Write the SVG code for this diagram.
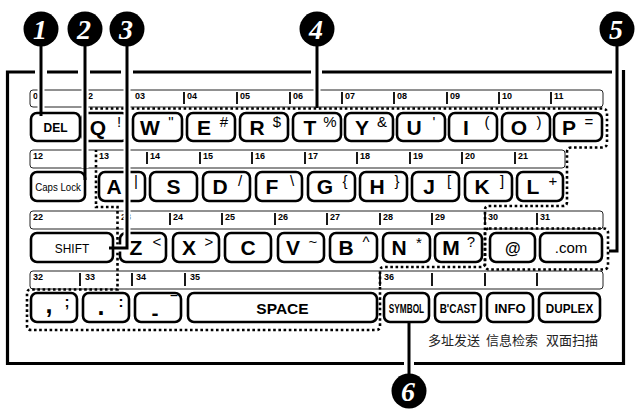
<svg xmlns="http://www.w3.org/2000/svg" width="635" height="409" viewBox="0 0 635 409">
<style>
.frame{fill:none;stroke:#000;stroke-width:3.2}
.strip{fill:#fff;stroke:#222;stroke-width:1}
.tick{stroke:#000;stroke-width:1.8}
.num{font-family:"Liberation Sans",Arial,sans-serif;font-weight:bold;font-size:9px;fill:#000}
.key{fill:#fff;stroke:#000;stroke-width:2.6}
.ltr{font-family:"Liberation Sans",Arial,sans-serif;font-weight:bold;font-size:21px;text-anchor:middle;fill:#000}
.sec{font-family:"Liberation Sans","DejaVu Sans",sans-serif;font-size:15px;text-anchor:middle;fill:#000}
.lbl{font-family:"Liberation Sans",Arial,sans-serif;font-size:12px;text-anchor:middle;fill:#000}
.bl{font-family:"Liberation Sans",Arial,sans-serif;font-weight:bold;font-size:13px;text-anchor:middle;fill:#000}
.cjk{font-family:"Liberation Sans","Noto Sans CJK SC",sans-serif;font-size:13px;text-anchor:middle;fill:#222}
.dot{fill:none;stroke:#000;stroke-width:2.6;stroke-dasharray:2.6 2.6}
.halo{fill:none;stroke:#fff;stroke-width:7}
.call{fill:none;stroke:#000;stroke-width:3}
.badge circle{fill:#000}
.badge text{font-family:"Liberation Serif","Times New Roman",serif;font-weight:bold;font-style:italic;font-size:28px;fill:#fff;text-anchor:middle}
</style>

<g id="frame">
<path class="frame" d="M612,72 H322 M311,72 H133 M121,72 H90 M78,72 H47 M35,72 H7.5 V363.5 H404 M414,363.5 H623.5 V70"/>
</g>

<g id="label-strips">
<rect class="strip" x="30" y="90" width="573" height="17" rx="3"/>
<text class="num" x="33" y="99">01</text><text class="num" x="83" y="99">02</text><text class="num" x="135" y="99">03</text>
<path class="tick" d="M184,92V104 M237,92V104 M290,92V104 M342,92V104 M394,92V104 M447,92V104 M499,92V104 M551,92V104"/>
<text class="num" x="187" y="99">04</text><text class="num" x="240" y="99">05</text><text class="num" x="293" y="99">06</text><text class="num" x="345" y="99">07</text><text class="num" x="397" y="99">08</text><text class="num" x="450" y="99">09</text><text class="num" x="502" y="99">10</text><text class="num" x="554" y="99">11</text>

<rect class="strip" x="30" y="150" width="535" height="18" rx="3"/>
<text class="num" x="33" y="159">12</text><text class="num" x="99" y="159">13</text>
<path class="tick" d="M147,152V164 M200,152V164 M252,152V164 M305,152V164 M357,152V164 M410,152V164 M462,152V164 M515,152V164"/>
<text class="num" x="150" y="159">14</text><text class="num" x="203" y="159">15</text><text class="num" x="255" y="159">16</text><text class="num" x="308" y="159">17</text><text class="num" x="360" y="159">18</text><text class="num" x="413" y="159">19</text><text class="num" x="465" y="159">20</text><text class="num" x="518" y="159">21</text>

<rect class="strip" x="30" y="211" width="573" height="18" rx="3"/>
<text class="num" x="33" y="220">22</text><text class="num" x="121" y="220">23</text>
<path class="tick" d="M170,213V225 M222,213V225 M275,213V225 M327,213V225 M380,213V225 M432,213V225 M485,213V225 M537,213V225"/>
<text class="num" x="173" y="220">24</text><text class="num" x="225" y="220">25</text><text class="num" x="278" y="220">26</text><text class="num" x="330" y="220">27</text><text class="num" x="383" y="220">28</text><text class="num" x="435" y="220">29</text><text class="num" x="488" y="220">30</text><text class="num" x="540" y="220">31</text>

<rect class="strip" x="30" y="271" width="573" height="18" rx="3"/>
<text class="num" x="33" y="280">32</text>
<path class="tick" d="M80,273V286 M132,273V286 M185,273V286 M380,273V286 M432,273V286 M485,273V286 M537,273V286"/>
<text class="num" x="85" y="280">33</text><text class="num" x="136" y="280">34</text><text class="num" x="190" y="280">35</text><text class="num" x="384" y="280">36</text>
</g>

<g id="key-DEL"><rect class="key" x="31" y="113" width="49" height="28" rx="6"/><text class="bl" x="55.5" y="131.5" style="font-size:12px">DEL</text></g>
<g id="key-Q"><rect class="key" x="82" y="113" width="46" height="28" rx="6"/><text class="ltr" x="98" y="135">Q</text><text class="sec" x="119" y="127">!</text></g>
<g id="key-W"><rect class="key" x="133" y="113" width="49" height="28" rx="6"/><text class="ltr" x="150" y="135">W</text><text class="sec" x="171" y="127">"</text></g>
<g id="key-E"><rect class="key" x="187" y="113" width="48" height="28" rx="6"/><text class="ltr" x="204" y="135">E</text><text class="sec" x="224" y="127">#</text></g>
<g id="key-R"><rect class="key" x="240" y="113" width="48" height="28" rx="6"/><text class="ltr" x="257" y="135">R</text><text class="sec" x="277" y="127">$</text></g>
<g id="key-T"><rect class="key" x="293" y="113" width="48" height="28" rx="6"/><text class="ltr" x="310" y="135">T</text><text class="sec" x="330" y="127">%</text></g>
<g id="key-Y"><rect class="key" x="345" y="113" width="48" height="28" rx="6"/><text class="ltr" x="362" y="135">Y</text><text class="sec" x="382" y="127">&amp;</text></g>
<g id="key-U"><rect class="key" x="397" y="113" width="48" height="28" rx="6"/><text class="ltr" x="414" y="135">U</text><text class="sec" x="434" y="127">'</text></g>
<g id="key-I"><rect class="key" x="449" y="113" width="48" height="28" rx="6"/><text class="ltr" x="466" y="135">I</text><text class="sec" x="487" y="127">(</text></g>
<g id="key-O"><rect class="key" x="502" y="113" width="48" height="28" rx="6"/><text class="ltr" x="519" y="135">O</text><text class="sec" x="539" y="127">)</text></g>
<g id="key-P"><rect class="key" x="554" y="113" width="48" height="28" rx="6"/><text class="ltr" x="569" y="135">P</text><text class="sec" x="589" y="127">=</text></g>

<g id="key-CapsLock"><rect class="key" x="31" y="172" width="54" height="29" rx="6"/><text class="lbl" transform="translate(58,190.5) scale(0.88,1)" style="font-size:11px">Caps Lock</text></g>
<g id="key-A"><rect class="key" x="99" y="172" width="46" height="29" rx="6"/><text class="ltr" x="114" y="194">A</text><text class="sec" x="136" y="186">|</text></g>
<g id="key-S"><rect class="key" x="150" y="172" width="47" height="29" rx="6"/><text class="ltr" x="173.5" y="194">S</text></g>
<g id="key-D"><rect class="key" x="203" y="172" width="47" height="29" rx="6"/><text class="ltr" x="220" y="194">D</text><text class="sec" x="240" y="186">/</text></g>
<g id="key-F"><rect class="key" x="256" y="172" width="46" height="29" rx="6"/><text class="ltr" x="272" y="194">F</text><text class="sec" x="292" y="186">\</text></g>
<g id="key-G"><rect class="key" x="308" y="172" width="47" height="29" rx="6"/><text class="ltr" x="325" y="194">G</text><text class="sec" x="345" y="186">{</text></g>
<g id="key-H"><rect class="key" x="360" y="172" width="47" height="29" rx="6"/><text class="ltr" x="377" y="194">H</text><text class="sec" x="397" y="186">}</text></g>
<g id="key-J"><rect class="key" x="412" y="172" width="47" height="29" rx="6"/><text class="ltr" x="429" y="194">J</text><text class="sec" x="449" y="186">[</text></g>
<g id="key-K"><rect class="key" x="465" y="172" width="47" height="29" rx="6"/><text class="ltr" x="482" y="194">K</text><text class="sec" x="502" y="186">]</text></g>
<g id="key-L"><rect class="key" x="517" y="172" width="46" height="29" rx="6"/><text class="ltr" x="533" y="194">L</text><text class="sec" x="553" y="186">+</text></g>

<g id="key-SHIFT"><rect class="key" x="31" y="233" width="82" height="29" rx="6"/><text class="lbl" transform="translate(72,253) scale(0.88,1)" style="font-size:13.5px">SHIFT</text></g>
<g id="key-Z"><rect class="key" x="120" y="233" width="46" height="29" rx="6"/><text class="ltr" x="136" y="255">Z</text><text class="sec" x="157" y="247">&lt;</text></g>
<g id="key-X"><rect class="key" x="173" y="233" width="46" height="29" rx="6"/><text class="ltr" x="189" y="255">X</text><text class="sec" x="209" y="247">&gt;</text></g>
<g id="key-C"><rect class="key" x="225" y="233" width="46" height="29" rx="6"/><text class="ltr" x="248" y="255">C</text></g>
<g id="key-V"><rect class="key" x="278" y="233" width="46" height="29" rx="6"/><text class="ltr" x="293" y="255">V</text><text class="sec" x="313" y="247">~</text></g>
<g id="key-B"><rect class="key" x="330" y="233" width="47" height="29" rx="6"/><text class="ltr" x="346" y="255">B</text><text class="sec" x="366" y="247">^</text></g>
<g id="key-N"><rect class="key" x="383" y="233" width="47" height="29" rx="6"/><text class="ltr" x="399" y="255">N</text><text class="sec" x="419" y="248">*</text></g>
<g id="key-M"><rect class="key" x="435" y="233" width="47" height="29" rx="6"/><text class="ltr" x="451" y="255">M</text><text class="sec" x="471" y="247">?</text></g>
<g id="key-at"><rect class="key" x="490" y="233" width="45" height="29" rx="6"/><text class="bl" x="512.5" y="253.5" style="font-size:16px;font-style:italic">@</text></g>
<g id="key-com"><rect class="key" x="540" y="233" width="62" height="29" rx="6"/><text class="lbl" x="571" y="253" style="font-size:15px">.com</text></g>

<g id="key-comma"><rect class="key" x="31" y="293" width="46" height="29" rx="6"/><text class="ltr" x="49" y="313" style="font-size:25px">,</text><text class="sec" x="67" y="307" style="font-weight:bold">;</text></g>
<g id="key-period"><rect class="key" x="83" y="293" width="46" height="29" rx="6"/><text class="ltr" x="101" y="315" style="font-size:25px">.</text><text class="sec" x="121" y="307" style="font-weight:bold">:</text></g>
<g id="key-dash"><rect class="key" x="135" y="293" width="46" height="29" rx="6"/><text class="ltr" x="155" y="320">-</text><text class="sec" x="174" y="307" style="font-weight:bold">‾</text></g>
<g id="key-SPACE"><rect class="key" x="188" y="293" width="189" height="29" rx="6"/><text class="bl" x="282.5" y="314" style="font-size:15.5px">SPACE</text></g>
<g id="key-SYMBOL"><rect class="key" x="384" y="293" width="45" height="29" rx="6"/><text class="bl" transform="translate(406.5,312.5) scale(0.66,1)" style="font-size:12.5px">SYMBOL</text></g>
<g id="key-BCAST"><rect class="key" x="435" y="293" width="46" height="29" rx="6"/><text class="bl" transform="translate(458,312.5) scale(0.8,1)" style="font-size:12.5px">B'CAST</text><text class="cjk" x="454" y="345">多址发送</text></g>
<g id="key-INFO"><rect class="key" x="487" y="293" width="46" height="29" rx="6"/><text class="bl" x="510" y="312.5">INFO</text><text class="cjk" x="512" y="345">信息检索</text></g>
<g id="key-DUPLEX"><rect class="key" x="539" y="293" width="61" height="29" rx="6"/><text class="bl" transform="translate(569.5,312.5) scale(0.9,1)">DUPLEX</text><text class="cjk" x="572" y="345">双面扫描</text></g>

<g id="groups">
<path id="group-4" class="dot" d="M90,108.5 H602 Q607,108.5 607,113 V143 Q607,147.5 602,147.5 H571 Q567,147.5 567,152 V202 Q567,206 563,206 H489 Q485,206 485,210 V263 Q485,267 481,267 H384 Q380,267 380,271 V326 Q380,330 376,330 H31 Q27,330 27,326 V293 Q27,289.5 31,289.5 H117.5 V207 H96 V150"/>
<rect id="group-5" class="dot" x="485" y="228.5" width="123" height="41" rx="4"/>
</g>

<g id="connectors">
<path class="halo" d="M41,46 V109"/><path class="call" d="M41,46 V116"/>
<path class="halo" d="M85,46 V168"/><path class="call" d="M85,46 V180"/>
<path class="halo" d="M127,46 V248 H116"/><path class="call" d="M127,46 V248 H109"/>
<path class="halo" d="M317,46 V104"/><path class="call" d="M317,46 V108"/>
<path class="halo" d="M617,46 V251 H612"/><path class="call" d="M617,46 V251 H609"/>
<path class="halo" d="M409,327 V376"/><path class="call" d="M409,322 V376"/>
</g>

<g id="callout-1" class="badge"><circle cx="41" cy="29" r="17.5"/><text x="40" y="38.5">1</text></g>
<g id="callout-2" class="badge"><circle cx="85" cy="29" r="17.5"/><text x="84" y="38.5">2</text></g>
<g id="callout-3" class="badge"><circle cx="127" cy="29" r="17.5"/><text x="126" y="38.5">3</text></g>
<g id="callout-4" class="badge"><circle cx="317" cy="29" r="17.5"/><text x="316" y="38.5">4</text></g>
<g id="callout-5" class="badge"><circle cx="617" cy="29" r="17.5"/><text x="616" y="38.5">5</text></g>
<g id="callout-6" class="badge"><circle cx="409" cy="391" r="17.5"/><text x="408" y="400.5">6</text></g>
</svg>
